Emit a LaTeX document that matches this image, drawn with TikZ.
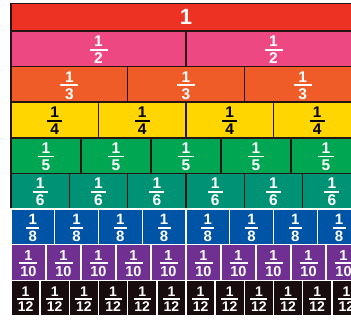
\documentclass[tikz,border=0pt]{standalone}
\usepackage{fontspec}
\setmainfont{Liberation Sans}
\usetikzlibrary{calc}
\definecolor{edge}{RGB}{38,20,18}
\definecolor{wallred}{RGB}{237,50,36}
\definecolor{wallpink}{RGB}{238,72,130}
\definecolor{wallorange}{RGB}{240,92,40}
\definecolor{wallyellow}{RGB}{255,214,0}
\definecolor{wallgreen}{RGB}{0,166,81}
\definecolor{wallteal}{RGB}{0,146,117}
\definecolor{wallblue}{RGB}{0,84,166}
\definecolor{wallpurple}{RGB}{112,48,145}
\definecolor{wallblack}{RGB}{24,12,14}

% unit fraction: #1 denominator, #2 bar width (pt)
\newcommand\piece[2]{\raisebox{-2.5pt}[\height][\depth]{%
  \setlength\arrayrulewidth{1.8pt}%
  \renewcommand\arraystretch{0.7}%
  \begin{tabular}{@{}c@{}}\makebox[#2pt]{1}\\[-1pt]\hline
  \rule{0pt}{0.84em}#1\end{tabular}}}

\begin{document}
\begin{tikzpicture}[
  x=1pt,y=1pt,
  cell/.style={draw=#1, line width=1.4pt, inner sep=0pt}
]
\useasboundingbox (0,0) rectangle (351,322);
\clip (0,0) rectangle (351,322);

% Whole strip on top.
\node[cell=edge, fill=wallred, text=white, minimum width=350,
      minimum height=27.5, font=\fontsize{22}{22}\selectfont\bfseries]
  (whole) at (186,304.75) {1};

% One row per denominator, cut into equal pieces.
\foreach \n/\fillc/\txtc/\gridc/\barw/\fs [count=\r from 0] in {
    2/wallpink/white/edge/18/15.5,
    3/wallorange/white/edge/18/15.5,
    4/wallyellow/black/edge/15/15.5,
    5/wallgreen/white/edge/16/15.5,
    6/wallteal/white/edge/15/15.5,
    8/wallblue/white/white/13/15,
    10/wallpurple/white/white/18/14.5,
    12/wallblack/white/white/17/14}{
  \pgfmathsetmacro\w{350/\n}
  \pgfmathsetmacro\yc{273.2-\r*35.6}
  \foreach \k in {1,...,\n}{
    \node[cell=\gridc, fill=\fillc, text=\txtc, minimum width=\w,
          minimum height=35.6, font=\fontsize{\fs}{\fs}\selectfont\bfseries]
      (p\n-\k) at ({11+(\k-0.5)*\w},\yc) {\piece{\n}{\barw}};
  }
}

\end{tikzpicture}
\end{document}
